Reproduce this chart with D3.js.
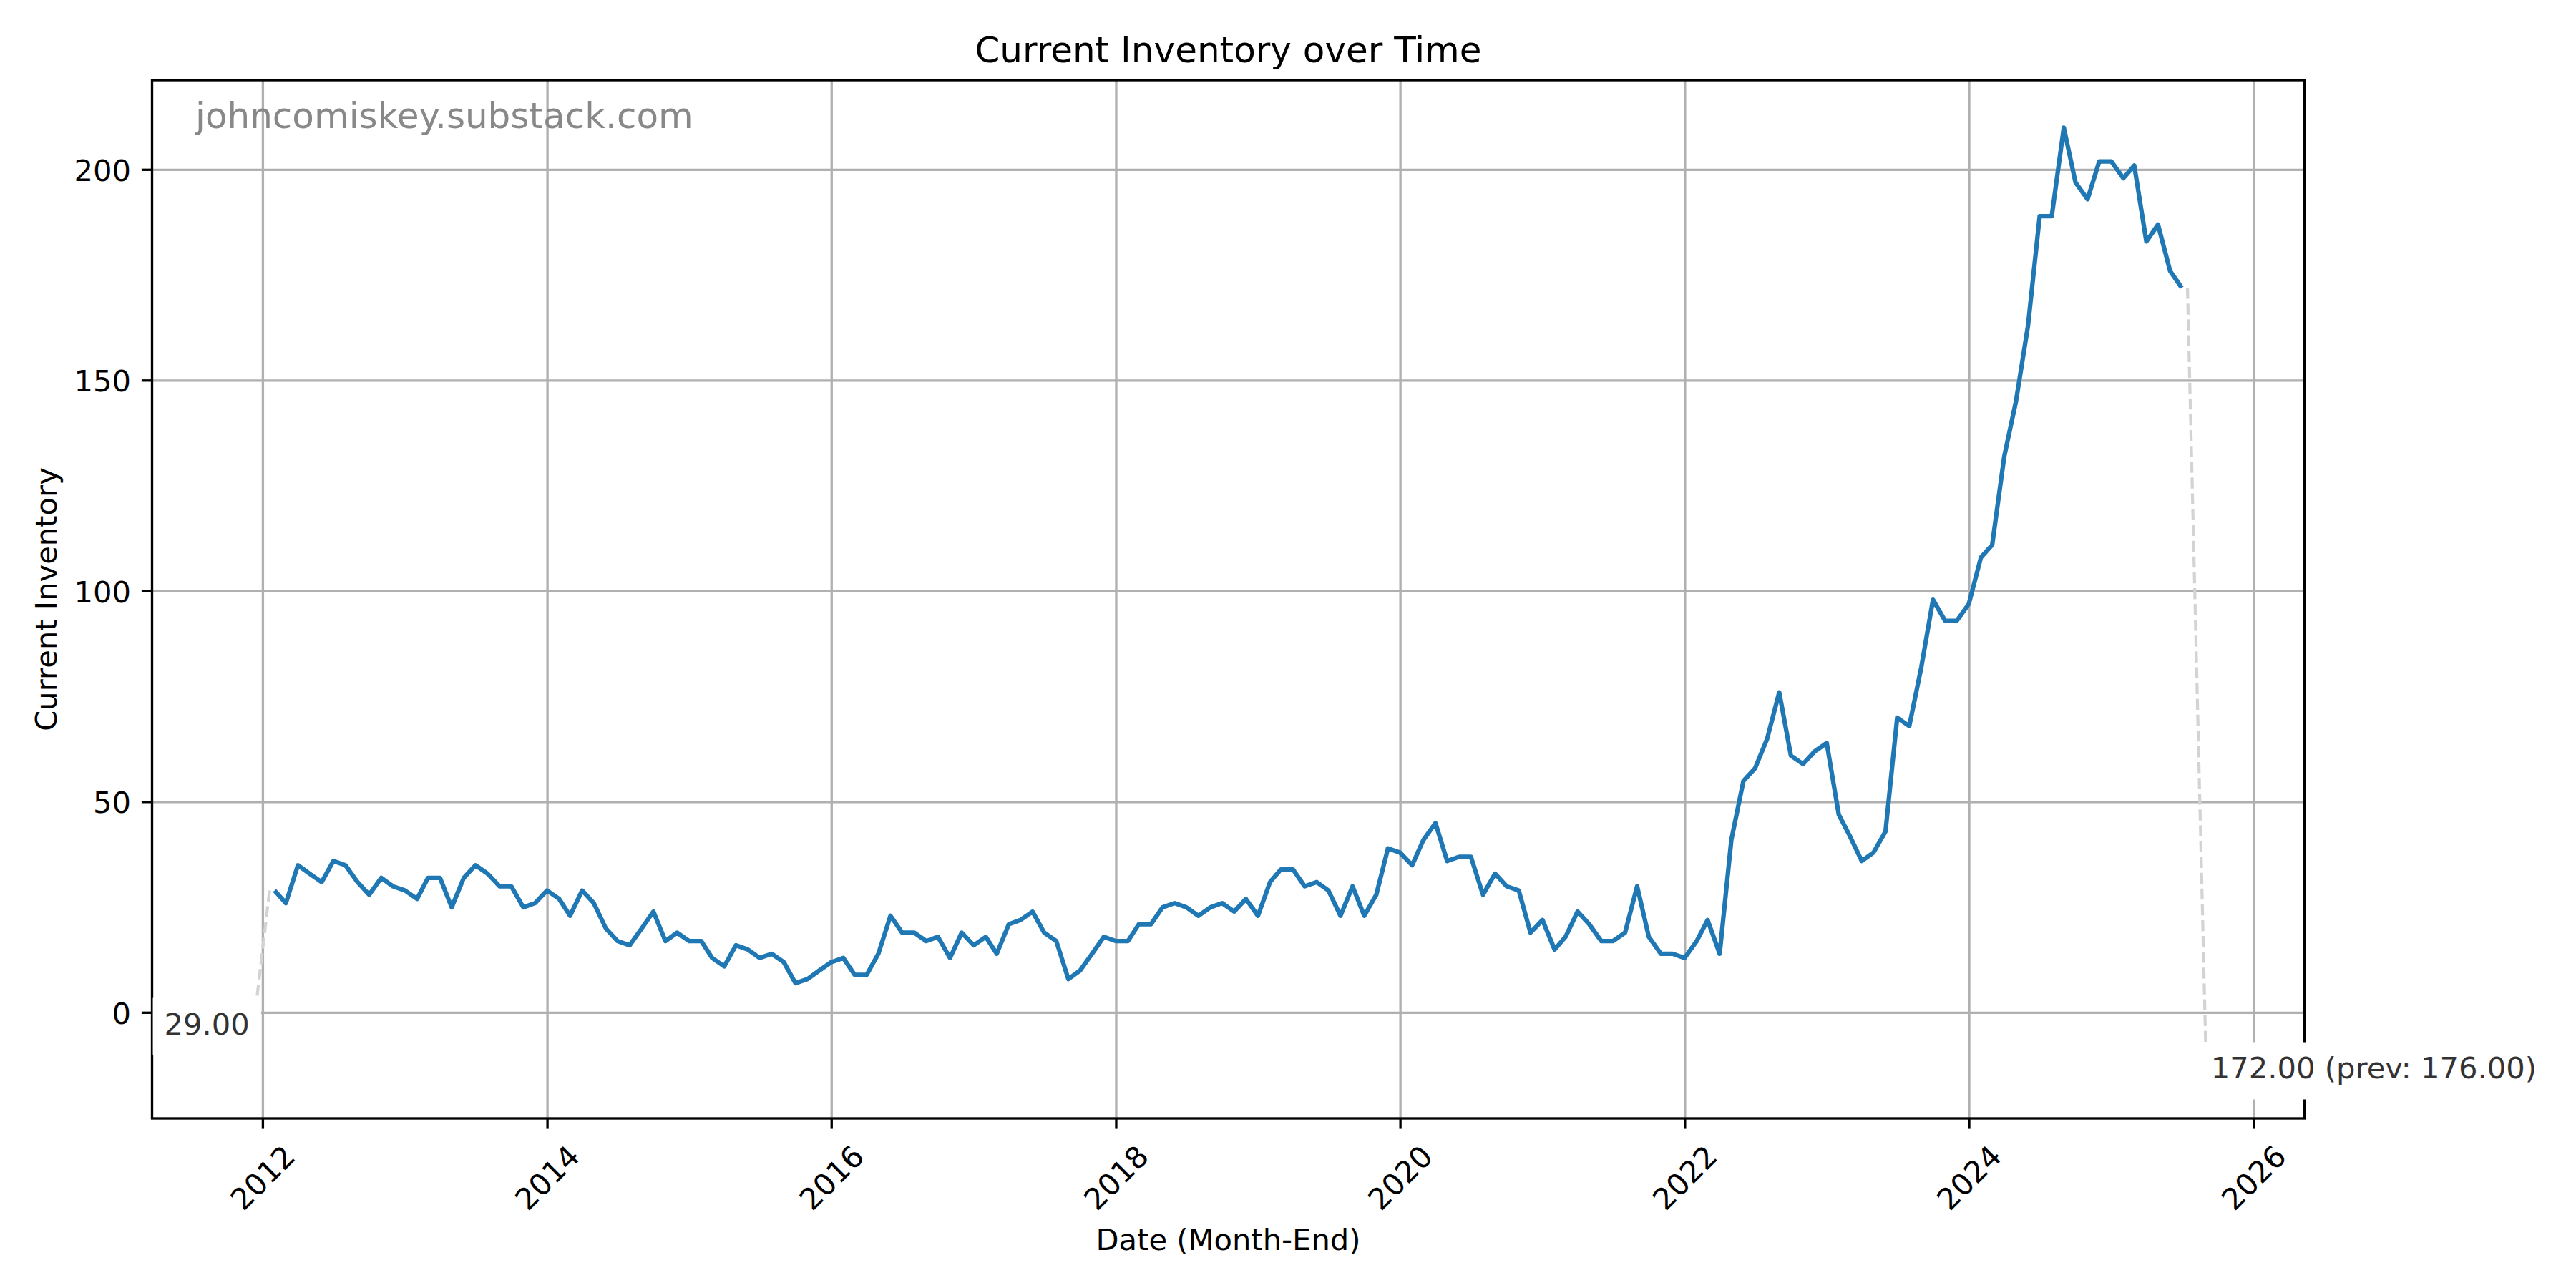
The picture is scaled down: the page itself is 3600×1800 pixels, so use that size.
<!DOCTYPE html>
<html>
<head>
<meta charset="utf-8">
<script src="https://cdn.jsdelivr.net/npm/d3@7"></script>
<style>
  html, body { margin: 0; padding: 0; background: #fff; }
  svg { display: block; }
  text { font-family: "DejaVu Sans", sans-serif; }
</style>
</head>
<body>
<svg id="chart" width="3600" height="1800"></svg>
<script>
// ---------------- data ----------------
const chartTitle = "Current Inventory over Time";
const xLabel = "Date (Month-End)";
const yLabel = "Current Inventory";
const watermark = "johncomiskey.substack.com";

// first observation month (values are month-end)
const firstMonth = "2012-01";
// monthly month-end inventory, Jan 2012 .. Jun 2025
const inventory = [
  29, 26, 35, 33, 31, 36, 35, 31, 28, 32, 30, 29,      // 2012
  27, 32, 32, 25, 32, 35, 33, 30, 30, 25, 26, 29,      // 2013
  27, 23, 29, 26, 20, 17, 16, 20, 24, 17, 19, 17,      // 2014
  17, 13, 11, 16, 15, 13, 14, 12, 7, 8, 10, 12,        // 2015
  13, 9, 9, 14, 23, 19, 19, 17, 18, 13, 19, 16,        // 2016
  18, 14, 21, 22, 24, 19, 17, 8, 10, 14, 18, 17,       // 2017
  17, 21, 21, 25, 26, 25, 23, 25, 26, 24, 27, 23,      // 2018
  31, 34, 34, 30, 31, 29, 23, 30, 23, 28, 39, 38,      // 2019
  35, 41, 45, 36, 37, 37, 28, 33, 30, 29, 19, 22,      // 2020
  15, 18, 24, 21, 17, 17, 19, 30, 18, 14, 14, 13,      // 2021
  17, 22, 14, 41, 55, 58, 65, 76, 61, 59, 62, 64,      // 2022
  47, 42, 36, 38, 43, 70, 68, 82, 98, 93, 93, 97,      // 2023
  108, 111, 132, 145, 163, 189, 189, 210, 197, 193, 202, 202, // 2024
  198, 201, 183, 187, 176, 172                         // 2025
];

const xTickYears = [2012, 2014, 2016, 2018, 2020, 2022, 2024, 2026];
const yTicks = [0, 50, 100, 150, 200];

// label anchors (data space) for the first / last value call-outs
const firstLabelAnchor = { date: "2011-12-08", value: -3.2 };
const lastLabelAnchor  = { date: "2025-09-01", value: -13.7 };

// ---------------- layout ----------------
const svg = d3.select("#chart");
const frame = { left: 212.5, right: 3220.5, top: 112, bottom: 1563 };
const fs = 41.67;          // 10pt @ 300dpi
const lw = 3.33;           // 0.8pt

const parse = d3.utcParse("%Y-%m");
const start = parse(firstMonth);
const data = inventory.map((v, i) => ({
  date: d3.utcDay.offset(d3.utcMonth.offset(start, i + 1), -1),
  value: v
}));

const x = d3.scaleUtc()
  .domain([new Date(Date.UTC(2012, 0, 1)), new Date(Date.UTC(2026, 0, 1))])
  .range([367.4, 3149.7]);
const y = d3.scaleLinear().domain([0, 200]).range([1415.3, 237.3]);

const yearDate = yr => new Date(Date.UTC(yr, 0, 1));

// grid
const grid = svg.append("g");
grid.selectAll("line.gx").data(xTickYears).join("line")
  .attr("x1", d => x(yearDate(d))).attr("x2", d => x(yearDate(d)))
  .attr("y1", frame.top).attr("y2", frame.bottom)
  .attr("stroke", "#b0b0b0").attr("stroke-width", lw);
grid.selectAll("line.gy").data(yTicks).join("line")
  .attr("x1", frame.left).attr("x2", frame.right)
  .attr("y1", d => y(d)).attr("y2", d => y(d))
  .attr("stroke", "#b0b0b0").attr("stroke-width", lw);

// callout connector lines (dashed)
const first = data[0], last = data[data.length - 1], prev = data[data.length - 2];
const pA = d => x(d3.utcParse("%Y-%m-%d")(d.date));
svg.append("line")
  .attr("x1", x(first.date) - 7).attr("y1", y(first.value))
  .attr("x2", pA(firstLabelAnchor)).attr("y2", y(firstLabelAnchor.value))
  .attr("stroke", "#d3d3d3").attr("stroke-width", 4.17)
  .attr("stroke-dasharray", "15.4,6.7");
svg.append("line")
  .attr("x1", x(last.date) + 8).attr("y1", y(last.value))
  .attr("x2", pA(lastLabelAnchor)).attr("y2", y(lastLabelAnchor.value))
  .attr("stroke", "#d3d3d3").attr("stroke-width", 4.17)
  .attr("stroke-dasharray", "15.4,6.7");

// data line
svg.append("path").datum(data)
  .attr("fill", "none").attr("stroke", "#1f77b4").attr("stroke-width", 6.25)
  .attr("stroke-linejoin", "round").attr("stroke-linecap", "butt")
  .attr("d", d3.line().x(d => x(d.date)).y(d => y(d.value)));

// spines
svg.append("rect")
  .attr("x", frame.left).attr("y", frame.top)
  .attr("width", frame.right - frame.left).attr("height", frame.bottom - frame.top)
  .attr("fill", "none").attr("stroke", "#000").attr("stroke-width", lw);

// x ticks
const xt = svg.append("g");
xTickYears.forEach(yr => {
  const px = x(yearDate(yr));
  xt.append("line").attr("x1", px).attr("x2", px)
    .attr("y1", frame.bottom).attr("y2", frame.bottom + 14.6)
    .attr("stroke", "#000").attr("stroke-width", lw);
  xt.append("text")
    .attr("transform", `translate(${px},1646) rotate(-45)`)
    .attr("x", 0).attr("y", 14.4)
    .attr("text-anchor", "middle")
    .attr("font-size", fs).attr("fill", "#000")
    .text(String(yr));
});

// y ticks
const yt = svg.append("g");
yTicks.forEach(v => {
  const py = y(v);
  yt.append("line").attr("x1", frame.left - 14.6).attr("x2", frame.left)
    .attr("y1", py).attr("y2", py)
    .attr("stroke", "#000").attr("stroke-width", lw);
  yt.append("text")
    .attr("x", 183).attr("y", py + 15.2)
    .attr("text-anchor", "end")
    .attr("font-size", fs).attr("fill", "#000")
    .text(d3.format("d")(v));
});

// axis labels & title
svg.append("text").attr("x", (frame.left + frame.right) / 2).attr("y", 1746.5)
  .attr("text-anchor", "middle").attr("font-size", fs).attr("fill", "#000")
  .text(xLabel);
svg.append("text")
  .attr("transform", `translate(78.7,${(frame.top + frame.bottom) / 2}) rotate(-90)`)
  .attr("text-anchor", "middle").attr("font-size", fs).attr("fill", "#000")
  .text(yLabel);
svg.append("text").attr("x", (frame.left + frame.right) / 2).attr("y", 87)
  .attr("text-anchor", "middle").attr("font-size", 50).attr("fill", "#000")
  .text(chartTitle);

// watermark
svg.append("text").attr("x", 273).attr("y", 179)
  .attr("font-size", 50).attr("fill", "#888888")
  .text(watermark);

// callout labels with white boxes
function callout(anchor, txt, side) {
  const ax = pA(anchor), ay = y(anchor.value);
  const g = svg.append("g");
  const rect = g.append("rect").attr("fill", "#fff");
  const t = g.append("text")
    .attr("x", side === "left" ? ax - 5.5 : ax + 6.5)
    .attr("y", ay + 11.5)
    .attr("text-anchor", side === "left" ? "end" : "start")
    .attr("font-size", fs).attr("fill", "#333333")
    .text(txt);
  const bb = t.node().getBBox();
  const base = ay + 11.5;
  rect.attr("x", bb.x - 16).attr("width", bb.width + 32)
    .attr("y", base - 51).attr("height", 80);
}
callout(firstLabelAnchor, d3.format(".2f")(first.value), "left");
callout(lastLabelAnchor, `${d3.format(".2f")(last.value)} (prev: ${d3.format(".2f")(prev.value)})`, "right");
</script>
</body>
</html>
